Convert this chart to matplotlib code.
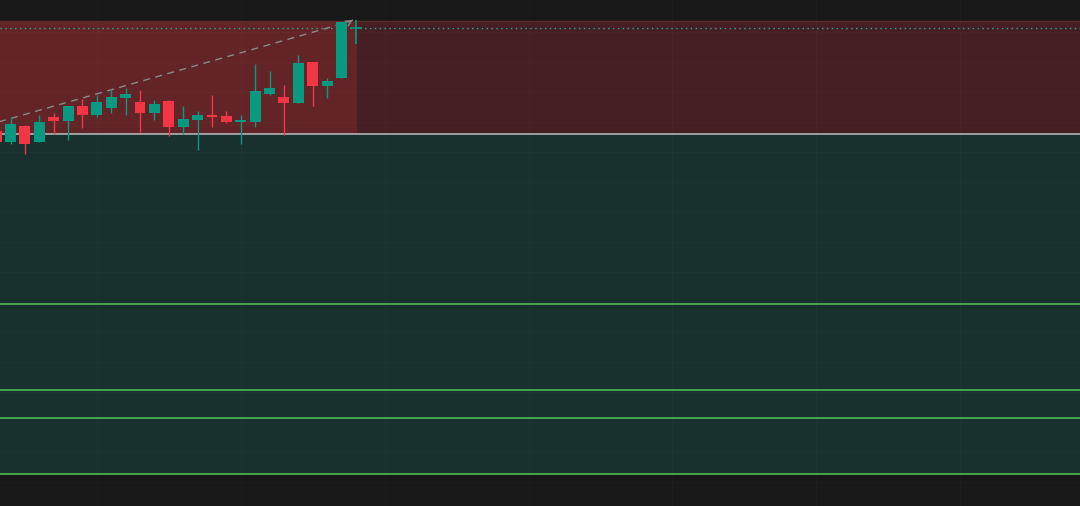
import matplotlib
matplotlib.use("Agg")
import matplotlib.pyplot as plt
import numpy as np

# candle data (bar index, open/high/low/close)
idx = np.arange(25)
opens = [38.1, 37.0, 38.6, 37.0, 39.5, 39.1, 40.6, 39.7, 40.4, 41.4, 41.0, 39.9, 41.1,
         38.5, 39.2, 39.7, 39.6, 39.0, 39.0, 41.8, 41.5, 40.9, 45.0, 42.6, 43.4]
highs = [38.2, 39.5, 38.7, 39.7, 39.9, 40.6, 41.3, 41.7, 42.3, 42.4, 42.2, 41.2, 41.2,
         40.6, 40.1, 41.7, 40.1, 39.7, 44.8, 44.1, 42.7, 45.7, 45.0, 43.4, 49.0]
lows = [36.8, 36.8, 35.8, 37.0, 37.8, 37.2, 38.4, 39.5, 39.9, 39.7, 38.0, 39.2, 37.6,
        37.8, 36.2, 38.5, 38.9, 36.8, 38.5, 41.7, 37.7, 40.9, 40.6, 41.4, 43.4]
closes = [37.0, 38.8, 36.8, 39.0, 39.1, 40.6, 39.7, 41.0, 41.5, 41.8, 39.9, 40.8, 38.5,
          39.3, 39.7, 39.5, 39.0, 39.1, 42.1, 42.4, 40.9, 44.9, 42.6, 43.1, 49.0]

# zones and levels
red_zone = (37.8, 49.1)
green_zone = (3.8, 37.8)
zone_split = 25.1
green_levels = [20.8, 12.2, 9.4, 3.8]
grey_level = 37.8
dotted_level = 48.4
cursor = (25.0, 48.4)
trend_start = (0.0, 38.9)
trend_end = (24.6, 49.0)

up_col = "#089981"
down_col = "#f23645"

fig = plt.figure(figsize=(10.8, 5.065), dpi=100)
fig.patch.set_facecolor("#181818")
ax = fig.add_axes([0, 0, 1, 1])
ax.set_facecolor("#181818")
ax.set_xlim(0.27, 75.32)
ax.set_ylim(0.6, 51.2)
ax.axis("off")

# zones
ax.fill_between([0.27, zone_split], red_zone[0], red_zone[1], color="#632428", lw=0, zorder=1)
ax.fill_between([zone_split, 75.32], red_zone[0], red_zone[1], color="#451f23", lw=0, zorder=1)
ax.fill_between([0.27, 75.32], green_zone[0], green_zone[1], color="#18312e", lw=0, zorder=1)
ax.axhline(red_zone[1], color="#5e2a2c", lw=1.0, zorder=2)

# faint grid
for gx in np.arange(7, 76, 10):
    ax.axvline(gx, color="#ffffff", alpha=0.018, lw=1, zorder=2)
for gy in np.arange(3, 51, 3):
    ax.axhline(gy, color="#ffffff", alpha=0.015, lw=1, zorder=2)

# levels
ax.axhline(grey_level, color="#a0a0a0", lw=1.4, zorder=3)
for lv in green_levels:
    ax.axhline(lv, color="#4caf50", lw=1.3, zorder=3)
ax.axhline(dotted_level, color="#22ab94", lw=1.0, ls=(0, (1, 2.5)), zorder=3)

# trend line
ax.plot([trend_start[0], trend_end[0]], [trend_start[1], trend_end[1]],
        color="#8a8a8a", lw=1.0, ls=(0, (5, 4)), zorder=4)
ax.annotate("", xy=(trend_end[0] + 0.35, trend_end[1] + 0.3), xytext=trend_end,
            arrowprops=dict(arrowstyle="->", color="#8a8a8a", lw=1.0), zorder=4)

# candles
w = 0.76
for i, o, h, l, c in zip(idx, opens, highs, lows, closes):
    col = up_col if c >= o else down_col
    ax.vlines(i, l, h, color=col, lw=1.0, zorder=5)
    bot = min(o, c)
    hgt = max(abs(c - o), 0.12)
    ax.bar(i, hgt, width=w, bottom=bot, color=col, lw=0, zorder=6)

# cursor cross
ax.vlines(cursor[0], cursor[1] - 1.6, cursor[1] + 0.8, color=up_col, lw=1.2, zorder=7)
ax.hlines(cursor[1], cursor[0] - 0.42, cursor[0] + 0.42, color=up_col, lw=1.2, zorder=7)

plt.savefig("out.png", dpi=100, facecolor=fig.get_facecolor())
